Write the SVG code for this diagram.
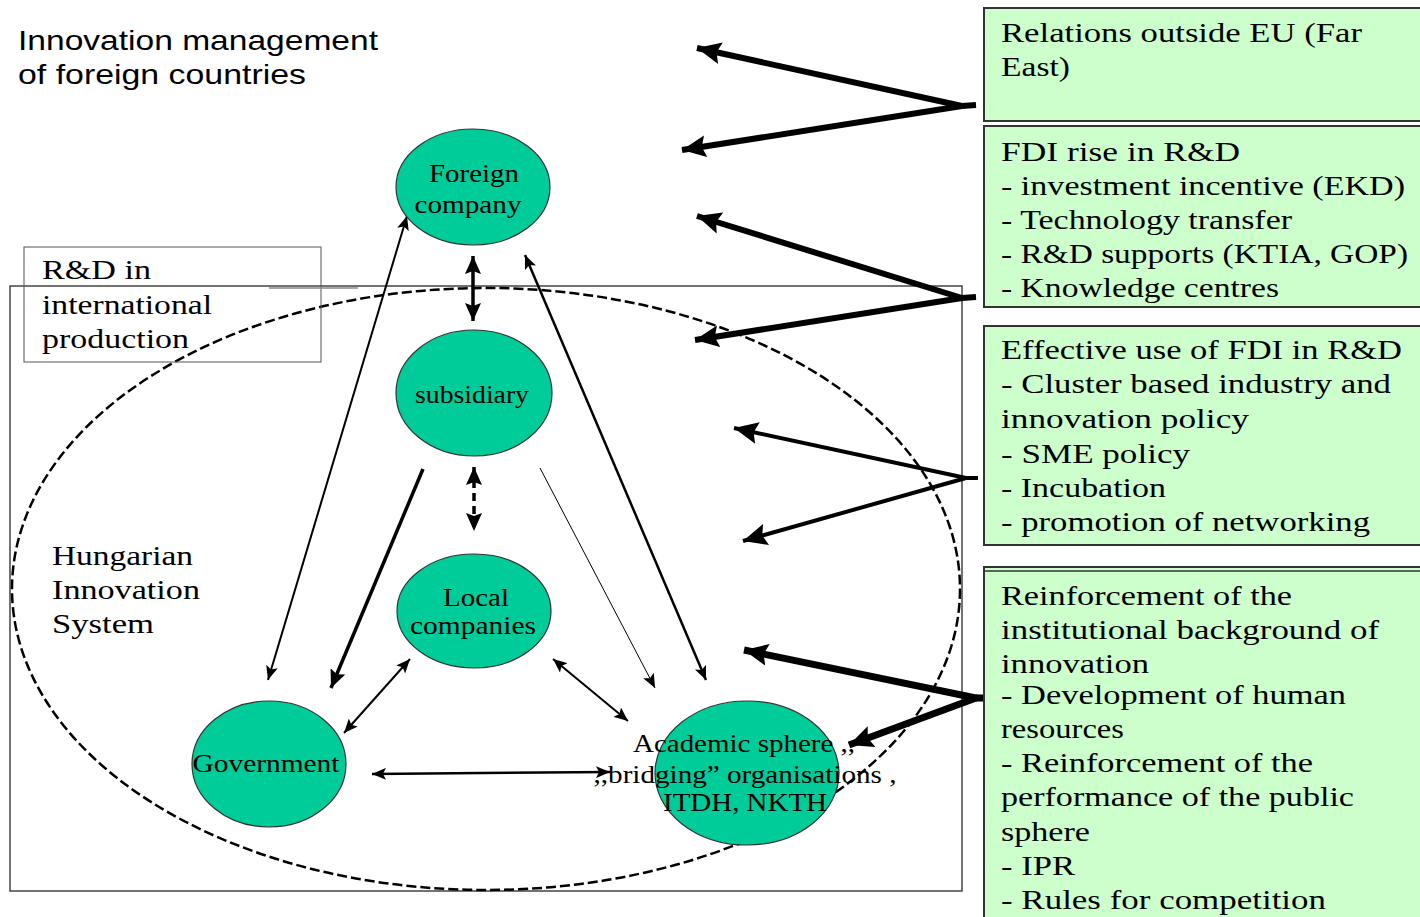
<svg xmlns="http://www.w3.org/2000/svg" width="1420" height="917" viewBox="0 0 1420 917">
<style>
.serif{font-family:"Liberation Serif","Times New Roman",serif;fill:#000}
.sans{font-family:"Liberation Sans",Arial,sans-serif;fill:#000}
.bt{font-size:27px}
.nt{font-size:25px}
.node{fill:#00CC99;stroke:#333;stroke-width:1.2}
.box{fill:#CCFFCC;stroke:#333;stroke-width:2}
.c{stroke:#000;fill:none}
</style>
<defs>
<marker id="as" viewBox="0 0 14 12" refX="14" refY="6" markerWidth="14" markerHeight="12" markerUnits="userSpaceOnUse" orient="auto-start-reverse"><path d="M0,0 L14,6 L0,12 L3,6 z" fill="#000"/></marker>
<marker id="am" viewBox="0 0 18 16" refX="18" refY="8" markerWidth="18" markerHeight="16" markerUnits="userSpaceOnUse" orient="auto-start-reverse"><path d="M0,0 L18,8 L0,16 L3,8 z" fill="#000"/></marker>
<marker id="al" viewBox="0 0 24 22" refX="24" refY="11" markerWidth="24" markerHeight="22" markerUnits="userSpaceOnUse" orient="auto-start-reverse"><path d="M0,0 L24,11 L0,22 L4,11 z" fill="#000"/></marker>
</defs>

<g id="frame">
<rect x="10" y="286" width="952" height="605" fill="none" stroke="#444" stroke-width="1.5"/>
<ellipse cx="486" cy="589" rx="474" ry="301" fill="none" stroke="#000" stroke-width="2.5" stroke-dasharray="10 4"/>
</g>

<g id="title">
<text class="sans" x="18" y="50" font-size="28" textLength="360" lengthAdjust="spacingAndGlyphs">Innovation management</text>
<text class="sans" x="18" y="84" font-size="28" textLength="288" lengthAdjust="spacingAndGlyphs">of foreign countries</text>
</g>

<g id="rd-box">
<rect x="24" y="247" width="297" height="115" fill="none" stroke="#555" stroke-width="1"/>
<line x1="269" y1="288" x2="358" y2="288" stroke="#888" stroke-width="1.5"/>
<text class="serif bt" x="42" y="279" textLength="109" lengthAdjust="spacingAndGlyphs">R&amp;D in</text>
<text class="serif bt" x="42" y="314" textLength="170" lengthAdjust="spacingAndGlyphs">international</text>
<text class="serif bt" x="42" y="348" textLength="147" lengthAdjust="spacingAndGlyphs">production</text>
</g>

<g id="his-label">
<text class="serif bt" x="52" y="565" textLength="141" lengthAdjust="spacingAndGlyphs">Hungarian</text>
<text class="serif bt" x="52" y="599" textLength="148" lengthAdjust="spacingAndGlyphs">Innovation</text>
<text class="serif bt" x="52" y="633" textLength="102" lengthAdjust="spacingAndGlyphs">System</text>
</g>

<g id="connectors">
<line class="c" x1="473" y1="256" x2="473" y2="321" stroke-width="3.5" marker-start="url(#am)" marker-end="url(#am)"/>
<line class="c" x1="474" y1="467" x2="474" y2="531" stroke-width="3.5" stroke-dasharray="8 5" marker-start="url(#am)" marker-end="url(#am)"/>
<line class="c" x1="407" y1="216" x2="268" y2="680" stroke-width="2" marker-start="url(#as)" marker-end="url(#as)"/>
<line class="c" x1="423" y1="469" x2="331" y2="688" stroke-width="3.5" marker-end="url(#am)"/>
<line class="c" x1="525" y1="255" x2="706" y2="680" stroke-width="2.5" marker-start="url(#as)" marker-end="url(#as)"/>
<line class="c" x1="540" y1="468" x2="655" y2="688" stroke-width="1" marker-end="url(#as)"/>
<line class="c" x1="410" y1="659" x2="344" y2="733" stroke-width="2" marker-start="url(#as)" marker-end="url(#as)"/>
<line class="c" x1="553" y1="659" x2="628" y2="721" stroke-width="2" marker-start="url(#as)" marker-end="url(#as)"/>
<line class="c" x1="372" y1="774" x2="610" y2="772" stroke-width="2.5" marker-start="url(#as)" marker-end="url(#as)"/>
<polyline class="c" points="697,48 962,106 682,150" stroke-width="6" marker-start="url(#al)" marker-end="url(#al)"/>
<line class="c" x1="962" y1="106" x2="976" y2="105" stroke-width="6"/>
<polyline class="c" points="697,216 962,298 695,340" stroke-width="6" marker-start="url(#al)" marker-end="url(#al)"/>
<line class="c" x1="962" y1="298" x2="976" y2="297" stroke-width="6"/>
<polyline class="c" points="734,428 966,478 743,541" stroke-width="4" marker-start="url(#al)" marker-end="url(#al)"/>
<line class="c" x1="966" y1="478" x2="978" y2="478" stroke-width="4"/>
<polyline class="c" points="744,650 976,698 849,745" stroke-width="7" marker-start="url(#al)" marker-end="url(#al)"/>
<line class="c" x1="976" y1="698" x2="985" y2="698" stroke-width="7"/>
</g>

<g id="foreign-company">
<ellipse class="node" cx="473" cy="187" rx="77" ry="58"/>
<text class="serif nt" x="474" y="182" text-anchor="middle" textLength="90" lengthAdjust="spacingAndGlyphs">Foreign</text>
<text class="serif nt" x="468" y="213" text-anchor="middle" textLength="107" lengthAdjust="spacingAndGlyphs">company</text>
</g>

<g id="subsidiary">
<ellipse class="node" cx="474" cy="393" rx="78" ry="63"/>
<text class="serif nt" x="472" y="403" text-anchor="middle" textLength="114" lengthAdjust="spacingAndGlyphs">subsidiary</text>
</g>

<g id="local-companies">
<ellipse class="node" cx="474" cy="611" rx="77" ry="57"/>
<text class="serif nt" x="476" y="606" text-anchor="middle" textLength="66" lengthAdjust="spacingAndGlyphs">Local</text>
<text class="serif nt" x="473" y="634" text-anchor="middle" textLength="126" lengthAdjust="spacingAndGlyphs">companies</text>
</g>

<g id="government">
<ellipse class="node" cx="269" cy="764" rx="77" ry="63"/>
<text class="serif nt" x="266" y="772" text-anchor="middle" textLength="147" lengthAdjust="spacingAndGlyphs">Government</text>
</g>

<g id="academic-sphere">
<ellipse class="node" cx="747" cy="773" rx="92" ry="72"/>
<text class="serif nt" x="744" y="752" text-anchor="middle" textLength="222" lengthAdjust="spacingAndGlyphs">Academic sphere ,,</text>
<text class="serif nt" x="745" y="783" text-anchor="middle" textLength="303" lengthAdjust="spacingAndGlyphs">,,bridging” organisations ,</text>
<text class="serif nt" x="745" y="811" text-anchor="middle" textLength="164" lengthAdjust="spacingAndGlyphs">ITDH, NKTH</text>
</g>

<g id="box-relations">
<rect class="box" x="984" y="8" width="450" height="113"/>
<text class="serif bt" x="1001" y="42" textLength="361" lengthAdjust="spacingAndGlyphs">Relations outside EU (Far</text>
<text class="serif bt" x="1001" y="76" textLength="69" lengthAdjust="spacingAndGlyphs">East)</text>
</g>

<g id="box-fdi-rise">
<rect class="box" x="984" y="126" width="450" height="181"/>
<text class="serif bt" x="1001" y="161" textLength="239" lengthAdjust="spacingAndGlyphs">FDI rise in R&amp;D</text>
<text class="serif bt" x="1001" y="195" textLength="404" lengthAdjust="spacingAndGlyphs">- investment incentive (EKD)</text>
<text class="serif bt" x="1001" y="229" textLength="291" lengthAdjust="spacingAndGlyphs">- Technology transfer</text>
<text class="serif bt" x="1001" y="263" textLength="407" lengthAdjust="spacingAndGlyphs">- R&amp;D supports (KTIA, GOP)</text>
<text class="serif bt" x="1001" y="297" textLength="278" lengthAdjust="spacingAndGlyphs">- Knowledge centres</text>
</g>

<g id="box-effective">
<rect class="box" x="984" y="326" width="450" height="219"/>
<text class="serif bt" x="1001" y="359" textLength="401" lengthAdjust="spacingAndGlyphs">Effective use of FDI in R&amp;D</text>
<text class="serif bt" x="1001" y="393" textLength="390" lengthAdjust="spacingAndGlyphs">- Cluster based industry and</text>
<text class="serif bt" x="1001" y="428" textLength="248" lengthAdjust="spacingAndGlyphs">innovation policy</text>
<text class="serif bt" x="1001" y="463" textLength="189" lengthAdjust="spacingAndGlyphs">- SME policy</text>
<text class="serif bt" x="1001" y="497" textLength="165" lengthAdjust="spacingAndGlyphs">- Incubation</text>
<text class="serif bt" x="1001" y="531" textLength="369" lengthAdjust="spacingAndGlyphs">- promotion of networking</text>
</g>

<g id="box-reinforcement">
<rect class="box" x="984" y="567" width="450" height="370"/>
<line x1="984" y1="571" x2="1420" y2="571" stroke="#333" stroke-width="1.5"/>
<text class="serif bt" x="1001" y="605" textLength="291" lengthAdjust="spacingAndGlyphs">Reinforcement of the</text>
<text class="serif bt" x="1001" y="639" textLength="378" lengthAdjust="spacingAndGlyphs">institutional background of</text>
<text class="serif bt" x="1001" y="673" textLength="148" lengthAdjust="spacingAndGlyphs">innovation</text>
<text class="serif bt" x="1001" y="704" textLength="345" lengthAdjust="spacingAndGlyphs">- Development of human</text>
<text class="serif bt" x="1001" y="738" textLength="123" lengthAdjust="spacingAndGlyphs">resources</text>
<text class="serif bt" x="1001" y="772" textLength="312" lengthAdjust="spacingAndGlyphs">- Reinforcement of the</text>
<text class="serif bt" x="1001" y="806" textLength="353" lengthAdjust="spacingAndGlyphs">performance of the public</text>
<text class="serif bt" x="1001" y="841" textLength="89" lengthAdjust="spacingAndGlyphs">sphere</text>
<text class="serif bt" x="1001" y="875" textLength="74" lengthAdjust="spacingAndGlyphs">- IPR</text>
<text class="serif bt" x="1001" y="909" textLength="325" lengthAdjust="spacingAndGlyphs">- Rules for competition</text>
</g>
</svg>
